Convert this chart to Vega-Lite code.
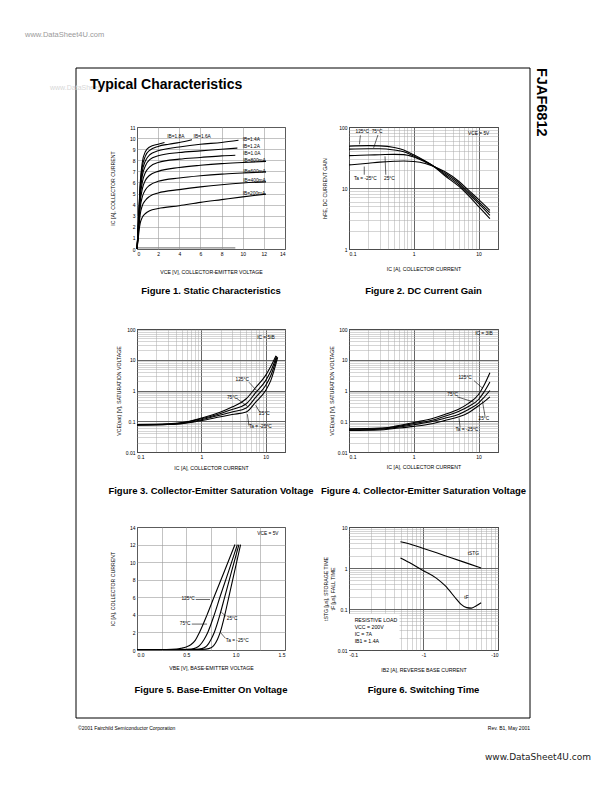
{
"$schema": "https://vega.github.io/schema/vega-lite/v6.json",
"padding": {"left": 25, "top": 31, "right": 5, "bottom": 5},
"background": "white",
"bounds": "flush",
"spacing": 0,
"columns": 5,
"config": {
  "font": "Liberation Sans",
  "view": {"stroke": null},
  "axis": {"labelFontSize": 5, "titleFontSize": 5.2, "titleFontWeight": "normal", "ticks": false, "domain": false, "labelPadding": 2, "gridColor": "#9a9a9a", "gridWidth": 0.6, "labelColor": "#000", "titleColor": "#000", "labelFont": "Liberation Sans", "titleFont": "Liberation Sans"},
  "title": {"fontSize": 9.5, "fontWeight": "bold", "font": "Liberation Sans", "orient": "bottom", "frame": "group", "anchor": "middle", "color": "#000"},
  "text": {"font": "Liberation Sans", "fontSize": 4.8, "color": "#000"},
  "line": {"color": "#000", "strokeWidth": 1.1},
  "rule": {"color": "#000", "strokeWidth": 0.6}
},
"datasets": {
  "top": [{"x":0,"x2":1,"y":1,"y2":1}],
  "left": [{"x":0,"x2":0,"y":0,"y2":1}],
  "right": [{"x":1,"x2":1,"y":0,"y2":1}],
  "c1": [
    {"g":"0","x":0,"y":0.1},{"g":"0","x":9.3,"y":0.1},
    {"g":"200","x":0,"y":0},{"g":"200","x":0.1,"y":0.8},{"g":"200","x":0.2,"y":1.7},{"g":"200","x":0.3,"y":2.3},{"g":"200","x":0.5,"y":2.85},{"g":"200","x":0.8,"y":3.2},{"g":"200","x":1.2,"y":3.45},{"g":"200","x":2,"y":3.65},{"g":"200","x":4,"y":3.9},{"g":"200","x":6,"y":4.2},{"g":"200","x":8,"y":4.45},{"g":"200","x":10,"y":4.7},{"g":"200","x":12.2,"y":4.95},
    {"g":"400","x":0,"y":0},{"g":"400","x":0.1,"y":1.0},{"g":"400","x":0.2,"y":2.2},{"g":"400","x":0.3,"y":3.1},{"g":"400","x":0.5,"y":3.9},{"g":"400","x":0.8,"y":4.4},{"g":"400","x":1.2,"y":4.75},{"g":"400","x":2,"y":5.05},{"g":"400","x":4,"y":5.35},{"g":"400","x":6,"y":5.6},{"g":"400","x":8,"y":5.8},{"g":"400","x":10,"y":5.95},{"g":"400","x":12.2,"y":6.05},
    {"g":"600","x":0,"y":0},{"g":"600","x":0.1,"y":1.2},{"g":"600","x":0.2,"y":2.6},{"g":"600","x":0.3,"y":3.7},{"g":"600","x":0.5,"y":4.7},{"g":"600","x":0.8,"y":5.35},{"g":"600","x":1.2,"y":5.75},{"g":"600","x":2,"y":6.1},{"g":"600","x":4,"y":6.4},{"g":"600","x":6,"y":6.6},{"g":"600","x":8,"y":6.75},{"g":"600","x":10,"y":6.85},{"g":"600","x":12.2,"y":6.95},
    {"g":"800","x":0,"y":0},{"g":"800","x":0.1,"y":1.3},{"g":"800","x":0.2,"y":2.9},{"g":"800","x":0.3,"y":4.2},{"g":"800","x":0.5,"y":5.4},{"g":"800","x":0.8,"y":6.2},{"g":"800","x":1.2,"y":6.65},{"g":"800","x":2,"y":7.0},{"g":"800","x":4,"y":7.35},{"g":"800","x":6,"y":7.55},{"g":"800","x":8,"y":7.7},{"g":"800","x":10,"y":7.8},{"g":"800","x":12.2,"y":7.9},
    {"g":"1000","x":0,"y":0},{"g":"1000","x":0.1,"y":1.4},{"g":"1000","x":0.2,"y":3.1},{"g":"1000","x":0.3,"y":4.6},{"g":"1000","x":0.5,"y":6.0},{"g":"1000","x":0.8,"y":6.9},{"g":"1000","x":1.2,"y":7.4},{"g":"1000","x":2,"y":7.8},{"g":"1000","x":4,"y":8.1},{"g":"1000","x":6,"y":8.25},{"g":"1000","x":8,"y":8.4},{"g":"1000","x":9.3,"y":8.45},
    {"g":"1200","x":0,"y":0},{"g":"1200","x":0.1,"y":1.5},{"g":"1200","x":0.2,"y":3.3},{"g":"1200","x":0.3,"y":5.0},{"g":"1200","x":0.5,"y":6.6},{"g":"1200","x":0.8,"y":7.5},{"g":"1200","x":1.2,"y":8.05},{"g":"1200","x":2,"y":8.4},{"g":"1200","x":4,"y":8.7},{"g":"1200","x":6,"y":8.85},{"g":"1200","x":8,"y":9.0},{"g":"1200","x":9.5,"y":9.1},
    {"g":"1400","x":0,"y":0},{"g":"1400","x":0.1,"y":1.6},{"g":"1400","x":0.2,"y":3.5},{"g":"1400","x":0.3,"y":5.3},{"g":"1400","x":0.5,"y":7.0},{"g":"1400","x":0.8,"y":7.95},{"g":"1400","x":1.2,"y":8.5},{"g":"1400","x":2,"y":8.85},{"g":"1400","x":4,"y":9.2},{"g":"1400","x":6,"y":9.45},{"g":"1400","x":8,"y":9.6},{"g":"1400","x":9.6,"y":9.8},
    {"g":"1600","x":0,"y":0},{"g":"1600","x":0.1,"y":1.7},{"g":"1600","x":0.2,"y":3.7},{"g":"1600","x":0.3,"y":5.6},{"g":"1600","x":0.5,"y":7.4},{"g":"1600","x":0.8,"y":8.4},{"g":"1600","x":1.2,"y":8.9},{"g":"1600","x":2,"y":9.25},{"g":"1600","x":3,"y":9.45},{"g":"1600","x":4,"y":9.6},{"g":"1600","x":5.2,"y":9.85},
    {"g":"1800","x":0,"y":0},{"g":"1800","x":0.1,"y":1.8},{"g":"1800","x":0.2,"y":3.9},{"g":"1800","x":0.3,"y":5.9},{"g":"1800","x":0.5,"y":7.8},{"g":"1800","x":0.8,"y":8.8},{"g":"1800","x":1.2,"y":9.2},{"g":"1800","x":2,"y":9.45},{"g":"1800","x":2.6,"y":9.6}
  ],
  "c1t": [
    {"x":2.85,"y":10.1,"t":"IB=1.8A"},{"x":5.35,"y":10.1,"t":"IB=1.6A"},{"x":10.0,"y":9.85,"t":"IB=1.4A"},{"x":10.0,"y":9.2,"t":"IB=1.2A"},{"x":10.05,"y":8.56,"t":"IB=1.0A"},{"x":10.05,"y":7.95,"t":"IB=800mA"},{"x":10.05,"y":6.94,"t":"IB=600mA"},{"x":10.05,"y":6.1,"t":"IB=400mA"},{"x":10.0,"y":4.95,"t":"IB=200mA"}
  ],
  "c2": [
    {"g":"125","x":0.1,"y":48.6},{"g":"125","x":0.2,"y":49.5},{"g":"125","x":0.3,"y":49},{"g":"125","x":0.5,"y":46},{"g":"125","x":0.7,"y":42},{"g":"125","x":1,"y":35},{"g":"125","x":1.5,"y":27.7},{"g":"125","x":2,"y":23},{"g":"125","x":3,"y":16},{"g":"125","x":5,"y":10.6},{"g":"125","x":7,"y":7.5},{"g":"125","x":10,"y":5.0},{"g":"125","x":15,"y":3.14},
    {"g":"75","x":0.1,"y":43.4},{"g":"75","x":0.2,"y":44},{"g":"75","x":0.3,"y":44},{"g":"75","x":0.5,"y":41.9},{"g":"75","x":0.7,"y":39.3},{"g":"75","x":1,"y":33.4},{"g":"75","x":1.5,"y":27.4},{"g":"75","x":2,"y":23},{"g":"75","x":3,"y":16.8},{"g":"75","x":5,"y":11.3},{"g":"75","x":7,"y":8.0},{"g":"75","x":10,"y":5.6},{"g":"75","x":15,"y":3.56},
    {"g":"25","x":0.1,"y":33.9},{"g":"25","x":0.2,"y":34.8},{"g":"25","x":0.3,"y":35.1},{"g":"25","x":0.5,"y":35.6},{"g":"25","x":0.7,"y":35.3},{"g":"25","x":1,"y":32.2},{"g":"25","x":1.5,"y":26.8},{"g":"25","x":2,"y":23},{"g":"25","x":3,"y":17.7},{"g":"25","x":5,"y":12.0},{"g":"25","x":7,"y":8.6},{"g":"25","x":10,"y":6.0},{"g":"25","x":15,"y":3.94},
    {"g":"-25","x":0.1,"y":23.9},{"g":"-25","x":0.2,"y":25.5},{"g":"-25","x":0.3,"y":26.6},{"g":"-25","x":0.5,"y":27.4},{"g":"-25","x":0.7,"y":27.7},{"g":"-25","x":1,"y":27.2},{"g":"-25","x":1.5,"y":25.3},{"g":"-25","x":2,"y":22.8},{"g":"-25","x":3,"y":18.6},{"g":"-25","x":5,"y":12.8},{"g":"-25","x":7,"y":9.2},{"g":"-25","x":10,"y":6.5},{"g":"-25","x":15,"y":4.3}
  ],
  "c2t": [
    {"x":0.126,"y":83,"t":"125°C"},{"x":0.224,"y":83,"t":"75°C"},{"x":0.119,"y":14.2,"t":"Ta = -25°C"},{"x":0.347,"y":14.2,"t":"25°C"},{"x":6.9,"y":76,"t":"VCE = 5V"}
  ],
  "c2r": [
    {"x":0.15,"y":73,"x2":0.145,"y2":52},{"x":0.28,"y":74,"x2":0.24,"y2":45.5},{"x":0.172,"y":16.5,"x2":0.172,"y2":22.5},{"x":0.37,"y":16.5,"x2":0.36,"y2":33}
  ],
  "c3": [
    {"g":"125","x":0.1,"y":0.078},{"g":"125","x":0.3,"y":0.082},{"g":"125","x":0.5,"y":0.09},{"g":"125","x":1,"y":0.127},{"g":"125","x":2,"y":0.2},{"g":"125","x":3,"y":0.29},{"g":"125","x":5,"y":0.54},{"g":"125","x":7,"y":1.25},{"g":"125","x":10,"y":3.1},{"g":"125","x":12,"y":6.0},{"g":"125","x":14.5,"y":13.5},
    {"g":"75","x":0.1,"y":0.077},{"g":"75","x":0.3,"y":0.08},{"g":"75","x":0.5,"y":0.088},{"g":"75","x":1,"y":0.12},{"g":"75","x":2,"y":0.18},{"g":"75","x":3,"y":0.24},{"g":"75","x":5,"y":0.37},{"g":"75","x":7,"y":0.85},{"g":"75","x":10,"y":2.1},{"g":"75","x":12,"y":4.2},{"g":"75","x":14.8,"y":13},
    {"g":"25","x":0.1,"y":0.076},{"g":"25","x":0.3,"y":0.079},{"g":"25","x":0.5,"y":0.085},{"g":"25","x":1,"y":0.112},{"g":"25","x":2,"y":0.16},{"g":"25","x":3,"y":0.2},{"g":"25","x":5,"y":0.27},{"g":"25","x":7,"y":0.6},{"g":"25","x":10,"y":1.45},{"g":"25","x":12,"y":3.0},{"g":"25","x":15.1,"y":12.5},
    {"g":"-25","x":0.1,"y":0.075},{"g":"-25","x":0.3,"y":0.078},{"g":"-25","x":0.5,"y":0.083},{"g":"-25","x":1,"y":0.105},{"g":"-25","x":2,"y":0.14},{"g":"-25","x":3,"y":0.165},{"g":"-25","x":5,"y":0.2},{"g":"-25","x":7,"y":0.42},{"g":"-25","x":10,"y":1.0},{"g":"-25","x":12,"y":2.1},{"g":"-25","x":15.4,"y":12}
  ],
  "c3t": [
    {"x":7.4,"y":50,"t":"IC = 5IB"},{"x":3.4,"y":2.2,"t":"125°C"},{"x":2.5,"y":0.58,"t":"75°C"},{"x":7.9,"y":0.167,"t":"25°C"},{"x":5.5,"y":0.063,"t":"Ta = -25°C"}
  ],
  "c3r": [
    {"x":5.5,"y":1.86,"x2":7.2,"y2":1.0},{"x":3.6,"y":0.54,"x2":5.2,"y2":0.31},{"x":8.2,"y":0.19,"x2":7.0,"y2":0.33},{"x":5.5,"y":0.072,"x2":5.2,"y2":0.17}
  ],
  "c4": [
    {"g":"125","x":0.1,"y":0.057},{"g":"125","x":0.3,"y":0.06},{"g":"125","x":0.5,"y":0.068},{"g":"125","x":1,"y":0.091},{"g":"125","x":2,"y":0.125},{"g":"125","x":3,"y":0.165},{"g":"125","x":5,"y":0.25},{"g":"125","x":7,"y":0.38},{"g":"125","x":10,"y":0.74},{"g":"125","x":12,"y":1.4},{"g":"125","x":15,"y":3.8},
    {"g":"75","x":0.1,"y":0.055},{"g":"75","x":0.3,"y":0.058},{"g":"75","x":0.5,"y":0.065},{"g":"75","x":1,"y":0.084},{"g":"75","x":2,"y":0.11},{"g":"75","x":3,"y":0.145},{"g":"75","x":5,"y":0.21},{"g":"75","x":7,"y":0.3},{"g":"75","x":10,"y":0.51},{"g":"75","x":12,"y":0.85},{"g":"75","x":15,"y":1.9},
    {"g":"25","x":0.1,"y":0.053},{"g":"25","x":0.3,"y":0.055},{"g":"25","x":0.5,"y":0.062},{"g":"25","x":1,"y":0.077},{"g":"25","x":2,"y":0.1},{"g":"25","x":3,"y":0.125},{"g":"25","x":5,"y":0.17},{"g":"25","x":7,"y":0.24},{"g":"25","x":10,"y":0.39},{"g":"25","x":12,"y":0.58},{"g":"25","x":15,"y":1.0},
    {"g":"-25","x":0.1,"y":0.05},{"g":"-25","x":0.3,"y":0.052},{"g":"-25","x":0.5,"y":0.058},{"g":"-25","x":1,"y":0.068},{"g":"-25","x":2,"y":0.085},{"g":"-25","x":3,"y":0.105},{"g":"-25","x":5,"y":0.14},{"g":"-25","x":7,"y":0.19},{"g":"-25","x":10,"y":0.32},{"g":"-25","x":12,"y":0.42},{"g":"-25","x":15,"y":0.62}
  ],
  "c4t": [
    {"x":8.9,"y":68,"t":"IC = 3IB"},{"x":4.9,"y":2.5,"t":"125°C"},{"x":3.3,"y":0.69,"t":"75°C"},{"x":10,"y":0.12,"t":"25°C"},{"x":4.4,"y":0.052,"t":"Ta = -25°C"}
  ],
  "c4r": [
    {"x":8.5,"y":2.1,"x2":11.5,"y2":1.2},{"x":4.7,"y":0.62,"x2":8.5,"y2":0.42},{"x":12.6,"y":0.145,"x2":11.5,"y2":0.45},{"x":5.2,"y":0.062,"x2":5.0,"y2":0.125}
  ],
  "c5": [
    {"g":"125","x":0,"y":0.05},{"g":"125","x":0.3,"y":0.06},{"g":"125","x":0.4,"y":0.1},{"g":"125","x":0.45,"y":0.2},{"g":"125","x":0.5,"y":0.35},{"g":"125","x":0.545,"y":0.6},{"g":"125","x":0.59,"y":1.1},{"g":"125","x":0.633,"y":2},{"g":"125","x":0.71,"y":4},{"g":"125","x":0.78,"y":6},{"g":"125","x":0.887,"y":9},{"g":"125","x":0.993,"y":12},
    {"g":"75","x":0,"y":0.05},{"g":"75","x":0.45,"y":0.06},{"g":"75","x":0.55,"y":0.1},{"g":"75","x":0.6,"y":0.25},{"g":"75","x":0.633,"y":0.5},{"g":"75","x":0.68,"y":1.2},{"g":"75","x":0.717,"y":2},{"g":"75","x":0.783,"y":4},{"g":"75","x":0.84,"y":6},{"g":"75","x":0.93,"y":9},{"g":"75","x":1.017,"y":12},
    {"g":"25","x":0,"y":0.05},{"g":"25","x":0.55,"y":0.06},{"g":"25","x":0.63,"y":0.1},{"g":"25","x":0.68,"y":0.25},{"g":"25","x":0.71,"y":0.5},{"g":"25","x":0.75,"y":1.2},{"g":"25","x":0.783,"y":2},{"g":"25","x":0.84,"y":4},{"g":"25","x":0.888,"y":6},{"g":"25","x":0.96,"y":9},{"g":"25","x":1.033,"y":12},
    {"g":"-25","x":0,"y":0.05},{"g":"-25","x":0.62,"y":0.06},{"g":"-25","x":0.7,"y":0.1},{"g":"-25","x":0.75,"y":0.25},{"g":"-25","x":0.777,"y":0.5},{"g":"-25","x":0.815,"y":1.2},{"g":"-25","x":0.843,"y":2},{"g":"-25","x":0.89,"y":4},{"g":"-25","x":0.93,"y":6},{"g":"-25","x":0.99,"y":9},{"g":"-25","x":1.05,"y":12}
  ],
  "c5t": [
    {"x":1.22,"y":13.17,"t":"VCE = 5V"},{"x":0.45,"y":5.78,"t":"125°C"},{"x":0.433,"y":3.0,"t":"75°C"},{"x":0.91,"y":3.5,"t":"25°C"},{"x":0.9,"y":1.0,"t":"Ta = -25°C"}
  ],
  "c5r": [
    {"x":0.595,"y":5.75,"x2":0.74,"y2":5.75},{"x":0.555,"y":2.95,"x2":0.71,"y2":2.95},{"x":0.9,"y":3.85,"x2":0.855,"y2":4.3},{"x":0.895,"y":1.35,"x2":0.845,"y2":2.0}
  ],
  "c6": [
    {"g":"tstg","x":0.49,"y":4.35},{"g":"tstg","x":0.7,"y":3.7},{"g":"tstg","x":1,"y":3.0},{"g":"tstg","x":1.5,"y":2.35},{"g":"tstg","x":2.4,"y":1.75},{"g":"tstg","x":4,"y":1.28},{"g":"tstg","x":5.94,"y":1.0},
    {"g":"tf","x":0.49,"y":1.75},{"g":"tf","x":0.7,"y":1.25},{"g":"tf","x":1,"y":0.86},{"g":"tf","x":1.5,"y":0.56},{"g":"tf","x":1.95,"y":0.37},{"g":"tf","x":2.8,"y":0.17},{"g":"tf","x":3.2,"y":0.13},{"g":"tf","x":3.8,"y":0.108},{"g":"tf","x":4.4,"y":0.105},{"g":"tf","x":5.0,"y":0.117},{"g":"tf","x":5.94,"y":0.142}
  ],
  "c6t": [
    {"x":3.92,"y":2.24,"t":"tSTG"},{"x":3.53,"y":0.188,"t":"tF"}
  ],
  "c6box": [
    {"x":0.1,"x2":0.477,"y":0.01,"y2":0.077}
  ],
  "c6b": [
    {"x":0.119,"y":0.055,"t":"RESISTIVE LOAD"},{"x":0.119,"y":0.0356,"t":"VCC = 200V"},{"x":0.119,"y":0.0244,"t":"IC = 7A"},{"x":0.119,"y":0.0164,"t":"IB1 = 1.4A"}
  ]
},
"concat": [
  {
    "width": 61, "height": 59,
    "encoding": {
      "x": {"field": "x", "type": "quantitative", "scale": {"domain": [0, 1], "nice": false, "zero": false}, "axis": null},
      "y": {"field": "y", "type": "quantitative", "scale": {"domain": [0, 1], "nice": false, "zero": false}, "axis": null}
    },
    "layer": [
      {"data": {"values": [{"x":0,"x2":1,"y":1,"y2":1},{"x":0,"x2":0,"y":0,"y2":1}]},
       "mark": {"type": "rule", "strokeWidth": 1, "color": "#000"},
       "encoding": {"x2": {"field": "x2"}, "y2": {"field": "y2"}}},
      {"data": {"values": [{"x": -0.836, "y": 1.627, "t": "www.DataSheet4U.com"}]},
       "mark": {"type": "text", "align": "left", "baseline": "top", "fontSize": 7.5, "color": "#9a9a9a"},
       "encoding": {"text": {"field": "t"}}},
      {"data": {"values": [{"x": -0.426, "y": 0.661, "t": "www.DataSheet4U.com"}]},
       "mark": {"type": "text", "align": "left", "baseline": "middle", "fontSize": 7, "color": "#d8d8d8"},
       "encoding": {"text": {"field": "t"}}},
      {"data": {"values": [{"x": 0.2295, "y": 0.712, "t": "Typical Characteristics"}]},
       "mark": {"type": "text", "align": "left", "baseline": "middle", "fontSize": 14, "fontWeight": "bold", "color": "#000"},
       "encoding": {"text": {"field": "t"}}}
    ]
  },
  {"width": 148, "height": 59, "data": {"name": "top"}, "mark": {"type": "rule", "strokeWidth": 1, "color": "#000"},
   "encoding": {"x": {"field": "x", "type": "quantitative", "scale": {"domain": [0,1], "nice": false, "zero": false}, "axis": null}, "x2": {"field": "x2"}, "y": {"field": "y", "type": "quantitative", "scale": {"domain": [0,1], "nice": false, "zero": false}, "axis": null}, "y2": {"field": "y2"}}},
  {"width": 64, "height": 59, "data": {"name": "top"}, "mark": {"type": "rule", "strokeWidth": 1, "color": "#000"},
   "encoding": {"x": {"field": "x", "type": "quantitative", "scale": {"domain": [0,1], "nice": false, "zero": false}, "axis": null}, "x2": {"field": "x2"}, "y": {"field": "y", "type": "quantitative", "scale": {"domain": [0,1], "nice": false, "zero": false}, "axis": null}, "y2": {"field": "y2"}}},
  {"width": 149, "height": 59, "data": {"name": "top"}, "mark": {"type": "rule", "strokeWidth": 1, "color": "#000"},
   "encoding": {"x": {"field": "x", "type": "quantitative", "scale": {"domain": [0,1], "nice": false, "zero": false}, "axis": null}, "x2": {"field": "x2"}, "y": {"field": "y", "type": "quantitative", "scale": {"domain": [0,1], "nice": false, "zero": false}, "axis": null}, "y2": {"field": "y2"}}},
  {
    "width": 32, "height": 59,
    "encoding": {
      "x": {"field": "x", "type": "quantitative", "scale": {"domain": [0, 1], "nice": false, "zero": false}, "axis": null},
      "y": {"field": "y", "type": "quantitative", "scale": {"domain": [0, 1], "nice": false, "zero": false}, "axis": null}
    },
    "layer": [
      {"data": {"values": [{"x":0,"x2":1,"y":1,"y2":1},{"x":1,"x2":1,"y":0,"y2":1}]},
       "mark": {"type": "rule", "strokeWidth": 1, "color": "#000"},
       "encoding": {"x2": {"field": "x2"}, "y2": {"field": "y2"}}},
      {"data": {"values": [{"x": 1.359, "y": 1.0, "t": "FJAF6812"}]},
       "mark": {"type": "text", "align": "left", "baseline": "middle", "angle": 90, "fontSize": 14.5, "fontWeight": "bold", "color": "#000"},
       "encoding": {"text": {"field": "t"}}}
    ]
  },

  {"width": 61, "height": 202, "data": {"name": "left"}, "mark": {"type": "rule", "strokeWidth": 1, "color": "#000"},
   "encoding": {"x": {"field": "x", "type": "quantitative", "scale": {"domain": [0,1], "nice": false, "zero": false}, "axis": null}, "x2": {"field": "x2"}, "y": {"field": "y", "type": "quantitative", "scale": {"domain": [0,1], "nice": false, "zero": false}, "axis": null}, "y2": {"field": "y2"}}},
  {
    "width": 148, "height": 122,
    "view": {"stroke": "#000", "strokeWidth": 1},
    "title": {"text": "Figure 1. Static Characteristics", "offset": 12},
    "encoding": {
      "x": {"field": "x", "type": "quantitative", "scale": {"domain": [0, 14], "nice": false, "zero": false}, "axis": {"values": [0,2,4,6,8,10,12,14], "title": "VCE [V], COLLECTOR-EMITTER VOLTAGE", "titlePadding": 13}},
      "y": {"field": "y", "type": "quantitative", "scale": {"domain": [0, 11], "nice": false, "zero": false}, "axis": {"values": [0,1,2,3,4,5,6,7,8,9,10,11], "title": "IC [A], COLLECTOR CURRENT", "titlePadding": 14}}
    },
    "layer": [
      {"data": {"name": "c1"}, "mark": {"type": "line", "interpolate": "monotone"},
       "encoding": {"detail": {"field": "g"}, "color": {"condition": {"test": "datum.g == '0'", "value": "#888"}, "value": "#000"}, "strokeWidth": {"condition": {"test": "datum.g == '0'", "value": 1.6}, "value": 1.1}}},
      {"data": {"name": "c1t"}, "mark": {"type": "text", "align": "left", "baseline": "middle"}, "encoding": {"text": {"field": "t"}}}
    ]
  },
  {"width": 64, "height": 202, "data": {"values": []}, "mark": "text", "encoding": {}},
  {
    "width": 149, "height": 122,
    "view": {"stroke": "#000", "strokeWidth": 1},
    "title": {"text": "Figure 2. DC Current Gain", "offset": 15},
    "encoding": {
      "x": {"field": "x", "type": "quantitative", "scale": {"type": "log", "domain": [0.1, 20], "nice": false}, "axis": {"values": [0.1,0.2,0.3,0.4,0.5,0.6,0.7,0.8,0.9,1,2,3,4,5,6,7,8,9,10,20], "labelExpr": "abs(log(datum.value)/LN10 - round(log(datum.value)/LN10)) < 0.01 ? (datum.value < 1 ? format(datum.value, '.2~f') : format(datum.value, 'd')) : ''", "gridColor": {"condition": {"test": "abs(log(datum.value)/LN10 - round(log(datum.value)/LN10)) < 0.01", "value": "#555"}, "value": "#aaa"}, "gridWidth": {"condition": {"test": "abs(log(datum.value)/LN10 - round(log(datum.value)/LN10)) < 0.01", "value": 0.9}, "value": 0.5}, "title": "IC [A], COLLECTOR CURRENT", "titlePadding": 10}},
      "y": {"field": "y", "type": "quantitative", "scale": {"type": "log", "domain": [1, 100], "nice": false}, "axis": {"values": [1,2,3,4,5,6,7,8,9,10,20,30,40,50,60,70,80,90,100], "labelExpr": "abs(log(datum.value)/LN10 - round(log(datum.value)/LN10)) < 0.01 ? format(datum.value, 'd') : ''", "gridColor": {"condition": {"test": "abs(log(datum.value)/LN10 - round(log(datum.value)/LN10)) < 0.01", "value": "#555"}, "value": "#aaa"}, "gridWidth": {"condition": {"test": "abs(log(datum.value)/LN10 - round(log(datum.value)/LN10)) < 0.01", "value": 0.9}, "value": 0.5}, "title": "hFE, DC CURRENT GAIN", "titlePadding": 11}}
    },
    "layer": [
      {"data": {"name": "c2"}, "mark": {"type": "line", "interpolate": "monotone"}, "encoding": {"detail": {"field": "g"}}},
      {"data": {"name": "c2r"}, "mark": {"type": "rule"}, "encoding": {"x2": {"field": "x2"}, "y2": {"field": "y2"}}},
      {"data": {"name": "c2t"}, "mark": {"type": "text", "align": "left", "baseline": "middle"}, "encoding": {"text": {"field": "t"}}}
    ]
  },
  {"width": 32, "height": 202, "data": {"name": "right"}, "mark": {"type": "rule", "strokeWidth": 1, "color": "#000"},
   "encoding": {"x": {"field": "x", "type": "quantitative", "scale": {"domain": [0,1], "nice": false, "zero": false}, "axis": null}, "x2": {"field": "x2"}, "y": {"field": "y", "type": "quantitative", "scale": {"domain": [0,1], "nice": false, "zero": false}, "axis": null}, "y2": {"field": "y2"}}},

  {"width": 61, "height": 198, "data": {"name": "left"}, "mark": {"type": "rule", "strokeWidth": 1, "color": "#000"},
   "encoding": {"x": {"field": "x", "type": "quantitative", "scale": {"domain": [0,1], "nice": false, "zero": false}, "axis": null}, "x2": {"field": "x2"}, "y": {"field": "y", "type": "quantitative", "scale": {"domain": [0,1], "nice": false, "zero": false}, "axis": null}, "y2": {"field": "y2"}}},
  {
    "width": 148, "height": 123,
    "view": {"stroke": "#000", "strokeWidth": 1},
    "title": {"text": "Figure 3. Collector-Emitter Saturation Voltage", "offset": 16},
    "encoding": {
      "x": {"field": "x", "type": "quantitative", "scale": {"type": "log", "domain": [0.1, 20], "nice": false}, "axis": {"values": [0.1,0.2,0.3,0.4,0.5,0.6,0.7,0.8,0.9,1,2,3,4,5,6,7,8,9,10,20], "labelExpr": "abs(log(datum.value)/LN10 - round(log(datum.value)/LN10)) < 0.01 ? (datum.value < 1 ? format(datum.value, '.2~f') : format(datum.value, 'd')) : ''", "gridColor": {"condition": {"test": "abs(log(datum.value)/LN10 - round(log(datum.value)/LN10)) < 0.01", "value": "#555"}, "value": "#aaa"}, "gridWidth": {"condition": {"test": "abs(log(datum.value)/LN10 - round(log(datum.value)/LN10)) < 0.01", "value": 0.9}, "value": 0.5}, "title": "IC [A], COLLECTOR CURRENT", "titlePadding": 6}},
      "y": {"field": "y", "type": "quantitative", "scale": {"type": "log", "domain": [0.01, 100], "nice": false}, "axis": {"values": [0.01,0.02,0.03,0.04,0.05,0.06,0.07,0.08,0.09,0.1,0.2,0.3,0.4,0.5,0.6,0.7,0.8,0.9,1,2,3,4,5,6,7,8,9,10,20,30,40,50,60,70,80,90,100], "labelExpr": "abs(log(datum.value)/LN10 - round(log(datum.value)/LN10)) < 0.01 ? (datum.value < 1 ? format(datum.value, '.2~f') : format(datum.value, 'd')) : ''", "gridColor": {"condition": {"test": "abs(log(datum.value)/LN10 - round(log(datum.value)/LN10)) < 0.01", "value": "#555"}, "value": "#aaa"}, "gridWidth": {"condition": {"test": "abs(log(datum.value)/LN10 - round(log(datum.value)/LN10)) < 0.01", "value": 0.9}, "value": 0.5}, "title": "VCE(sat) [V], SATURATION VOLTAGE", "titlePadding": 4}}
    },
    "layer": [
      {"data": {"name": "c3"}, "mark": {"type": "line", "interpolate": "monotone"}, "encoding": {"detail": {"field": "g"}}},
      {"data": {"name": "c3r"}, "mark": {"type": "rule"}, "encoding": {"x2": {"field": "x2"}, "y2": {"field": "y2"}}},
      {"data": {"name": "c3t"}, "mark": {"type": "text", "align": "left", "baseline": "middle"}, "encoding": {"text": {"field": "t"}}}
    ]
  },
  {"width": 64, "height": 198, "data": {"values": []}, "mark": "text", "encoding": {}},
  {
    "width": 149, "height": 123,
    "view": {"stroke": "#000", "strokeWidth": 1},
    "title": {"text": "Figure 4. Collector-Emitter Saturation Voltage", "offset": 17},
    "encoding": {
      "x": {"field": "x", "type": "quantitative", "scale": {"type": "log", "domain": [0.1, 20], "nice": false}, "axis": {"values": [0.1,0.2,0.3,0.4,0.5,0.6,0.7,0.8,0.9,1,2,3,4,5,6,7,8,9,10,20], "labelExpr": "abs(log(datum.value)/LN10 - round(log(datum.value)/LN10)) < 0.01 ? (datum.value < 1 ? format(datum.value, '.2~f') : format(datum.value, 'd')) : ''", "gridColor": {"condition": {"test": "abs(log(datum.value)/LN10 - round(log(datum.value)/LN10)) < 0.01", "value": "#555"}, "value": "#aaa"}, "gridWidth": {"condition": {"test": "abs(log(datum.value)/LN10 - round(log(datum.value)/LN10)) < 0.01", "value": 0.9}, "value": 0.5}, "title": "IC [A], COLLECTOR CURRENT", "titlePadding": 5}},
      "y": {"field": "y", "type": "quantitative", "scale": {"type": "log", "domain": [0.01, 100], "nice": false}, "axis": {"values": [0.01,0.02,0.03,0.04,0.05,0.06,0.07,0.08,0.09,0.1,0.2,0.3,0.4,0.5,0.6,0.7,0.8,0.9,1,2,3,4,5,6,7,8,9,10,20,30,40,50,60,70,80,90,100], "labelExpr": "abs(log(datum.value)/LN10 - round(log(datum.value)/LN10)) < 0.01 ? (datum.value < 1 ? format(datum.value, '.2~f') : format(datum.value, 'd')) : ''", "gridColor": {"condition": {"test": "abs(log(datum.value)/LN10 - round(log(datum.value)/LN10)) < 0.01", "value": "#555"}, "value": "#aaa"}, "gridWidth": {"condition": {"test": "abs(log(datum.value)/LN10 - round(log(datum.value)/LN10)) < 0.01", "value": 0.9}, "value": 0.5}, "title": "VCE(sat) [V], SATURATION VOLTAGE", "titlePadding": 3}}
    },
    "layer": [
      {"data": {"name": "c4"}, "mark": {"type": "line", "interpolate": "monotone"}, "encoding": {"detail": {"field": "g"}}},
      {"data": {"name": "c4r"}, "mark": {"type": "rule"}, "encoding": {"x2": {"field": "x2"}, "y2": {"field": "y2"}}},
      {"data": {"name": "c4t"}, "mark": {"type": "text", "align": "left", "baseline": "middle"}, "encoding": {"text": {"field": "t"}}}
    ]
  },
  {"width": 32, "height": 198, "data": {"name": "right"}, "mark": {"type": "rule", "strokeWidth": 1, "color": "#000"},
   "encoding": {"x": {"field": "x", "type": "quantitative", "scale": {"domain": [0,1], "nice": false, "zero": false}, "axis": null}, "x2": {"field": "x2"}, "y": {"field": "y", "type": "quantitative", "scale": {"domain": [0,1], "nice": false, "zero": false}, "axis": null}, "y2": {"field": "y2"}}},

  {"width": 61, "height": 191, "data": {"name": "left"}, "mark": {"type": "rule", "strokeWidth": 1, "color": "#000"},
   "encoding": {"x": {"field": "x", "type": "quantitative", "scale": {"domain": [0,1], "nice": false, "zero": false}, "axis": null}, "x2": {"field": "x2"}, "y": {"field": "y", "type": "quantitative", "scale": {"domain": [0,1], "nice": false, "zero": false}, "axis": null}, "y2": {"field": "y2"}}},
  {
    "width": 148, "height": 123,
    "view": {"stroke": "#000", "strokeWidth": 1},
    "title": {"text": "Figure 5. Base-Emitter On Voltage", "offset": 15},
    "encoding": {
      "x": {"field": "x", "type": "quantitative", "scale": {"domain": [0, 1.5], "nice": false, "zero": false}, "axis": {"values": [0,0.25,0.5,0.75,1,1.25,1.5], "labelExpr": "datum.value*2 == round(datum.value*2) ? format(datum.value, '.1f') : ''", "title": "VBE [V], BASE-EMITTER VOLTAGE", "titlePadding": 8}},
      "y": {"field": "y", "type": "quantitative", "scale": {"domain": [0, 14], "nice": false, "zero": false}, "axis": {"values": [0,2,4,6,8,10,12,14], "title": "IC [A], COLLECTOR CURRENT", "titlePadding": 14}}
    },
    "layer": [
      {"data": {"name": "c5"}, "mark": {"type": "line", "interpolate": "monotone"}, "encoding": {"detail": {"field": "g"}}},
      {"data": {"name": "c5r"}, "mark": {"type": "rule"}, "encoding": {"x2": {"field": "x2"}, "y2": {"field": "y2"}}},
      {"data": {"name": "c5t"}, "mark": {"type": "text", "align": "left", "baseline": "middle"}, "encoding": {"text": {"field": "t"}}}
    ]
  },
  {"width": 64, "height": 191, "data": {"values": []}, "mark": "text", "encoding": {}},
  {
    "width": 149, "height": 123,
    "view": {"stroke": "#000", "strokeWidth": 1},
    "title": {"text": "Figure 6. Switching Time", "offset": 13},
    "encoding": {
      "x": {"field": "x", "type": "quantitative", "scale": {"type": "log", "domain": [0.1, 10], "nice": false}, "axis": {"values": [0.1,0.2,0.3,0.4,0.5,0.6,0.7,0.8,0.9,1,2,3,4,5,6,7,8,9,10], "labelExpr": "abs(log(datum.value)/LN10 - round(log(datum.value)/LN10)) < 0.01 ? '-' + (datum.value < 1 ? format(datum.value, '.1~f') : format(datum.value, 'd')) : ''", "gridColor": {"condition": {"test": "abs(log(datum.value)/LN10 - round(log(datum.value)/LN10)) < 0.01", "value": "#555"}, "value": "#aaa"}, "gridWidth": {"condition": {"test": "abs(log(datum.value)/LN10 - round(log(datum.value)/LN10)) < 0.01", "value": 0.9}, "value": 0.5}, "title": "IB2 [A], REVERSE BASE CURRENT", "titlePadding": 10}},
      "y": {"field": "y", "type": "quantitative", "scale": {"type": "log", "domain": [0.01, 10], "nice": false}, "axis": {"values": [0.01,0.02,0.03,0.04,0.05,0.06,0.07,0.08,0.09,0.1,0.2,0.3,0.4,0.5,0.6,0.7,0.8,0.9,1,2,3,4,5,6,7,8,9,10], "labelExpr": "abs(log(datum.value)/LN10 - round(log(datum.value)/LN10)) < 0.01 ? (datum.value < 1 ? format(datum.value, '.2~f') : format(datum.value, 'd')) : ''", "gridColor": {"condition": {"test": "abs(log(datum.value)/LN10 - round(log(datum.value)/LN10)) < 0.01", "value": "#555"}, "value": "#aaa"}, "gridWidth": {"condition": {"test": "abs(log(datum.value)/LN10 - round(log(datum.value)/LN10)) < 0.01", "value": 0.9}, "value": 0.5}, "title": ["tSTG [μs], STORAGE TIME", "tF [μs], FALL TIME"], "titlePadding": 2}}
    },
    "layer": [
      {"data": {"name": "c6box"}, "mark": {"type": "rect", "color": "#fff"}, "encoding": {"x2": {"field": "x2"}, "y2": {"field": "y2"}}},
      {"data": {"name": "c6"}, "mark": {"type": "line", "interpolate": "monotone"}, "encoding": {"detail": {"field": "g"}}},
      {"data": {"name": "c6t"}, "mark": {"type": "text", "align": "left", "baseline": "middle"}, "encoding": {"text": {"field": "t"}}},
      {"data": {"name": "c6b"}, "mark": {"type": "text", "align": "left", "baseline": "middle", "fontSize": 5.2}, "encoding": {"text": {"field": "t"}}}
    ]
  },
  {"width": 32, "height": 191, "data": {"name": "right"}, "mark": {"type": "rule", "strokeWidth": 1, "color": "#000"},
   "encoding": {"x": {"field": "x", "type": "quantitative", "scale": {"domain": [0,1], "nice": false, "zero": false}, "axis": null}, "x2": {"field": "x2"}, "y": {"field": "y", "type": "quantitative", "scale": {"domain": [0,1], "nice": false, "zero": false}, "axis": null}, "y2": {"field": "y2"}}},

  {
    "width": 61, "height": 50,
    "encoding": {
      "x": {"field": "x", "type": "quantitative", "scale": {"domain": [0, 1], "nice": false, "zero": false}, "axis": null},
      "y": {"field": "y", "type": "quantitative", "scale": {"domain": [0, 1], "nice": false, "zero": false}, "axis": null}
    },
    "layer": [
      {"data": {"name": "top"}, "mark": {"type": "rule", "strokeWidth": 1, "color": "#000"}, "encoding": {"x2": {"field": "x2"}, "y2": {"field": "y2"}}},
      {"data": {"values": [{"x": 0.033, "y": 0.8, "t": "©2001 Fairchild Semiconductor Corporation"}]},
       "mark": {"type": "text", "align": "left", "baseline": "middle", "fontSize": 5},
       "encoding": {"text": {"field": "t"}}}
    ]
  },
  {"width": 148, "height": 50, "data": {"name": "top"}, "mark": {"type": "rule", "strokeWidth": 1, "color": "#000"},
   "encoding": {"x": {"field": "x", "type": "quantitative", "scale": {"domain": [0,1], "nice": false, "zero": false}, "axis": null}, "x2": {"field": "x2"}, "y": {"field": "y", "type": "quantitative", "scale": {"domain": [0,1], "nice": false, "zero": false}, "axis": null}, "y2": {"field": "y2"}}},
  {"width": 64, "height": 50, "data": {"name": "top"}, "mark": {"type": "rule", "strokeWidth": 1, "color": "#000"},
   "encoding": {"x": {"field": "x", "type": "quantitative", "scale": {"domain": [0,1], "nice": false, "zero": false}, "axis": null}, "x2": {"field": "x2"}, "y": {"field": "y", "type": "quantitative", "scale": {"domain": [0,1], "nice": false, "zero": false}, "axis": null}, "y2": {"field": "y2"}}},
  {"width": 149, "height": 50, "data": {"name": "top"}, "mark": {"type": "rule", "strokeWidth": 1, "color": "#000"},
   "encoding": {"x": {"field": "x", "type": "quantitative", "scale": {"domain": [0,1], "nice": false, "zero": false}, "axis": null}, "x2": {"field": "x2"}, "y": {"field": "y", "type": "quantitative", "scale": {"domain": [0,1], "nice": false, "zero": false}, "axis": null}, "y2": {"field": "y2"}}},
  {
    "width": 32, "height": 50,
    "encoding": {
      "x": {"field": "x", "type": "quantitative", "scale": {"domain": [0, 1], "nice": false, "zero": false}, "axis": null},
      "y": {"field": "y", "type": "quantitative", "scale": {"domain": [0, 1], "nice": false, "zero": false}, "axis": null}
    },
    "layer": [
      {"data": {"name": "top"}, "mark": {"type": "rule", "strokeWidth": 1, "color": "#000"}, "encoding": {"x2": {"field": "x2"}, "y2": {"field": "y2"}}},
      {"data": {"values": [{"x": 1.0, "y": 0.8, "t": "Rev. B1, May 2001"}]},
       "mark": {"type": "text", "align": "right", "baseline": "middle", "fontSize": 5},
       "encoding": {"text": {"field": "t"}}},
      {"data": {"values": [{"x": -0.406, "y": 0.22, "t": "www.DataSheet4U.com"}]},
       "mark": {"type": "text", "align": "left", "baseline": "middle", "fontSize": 9, "font": "DejaVu Sans", "color": "#222"},
       "encoding": {"text": {"field": "t"}}}
    ]
  }
]
}
